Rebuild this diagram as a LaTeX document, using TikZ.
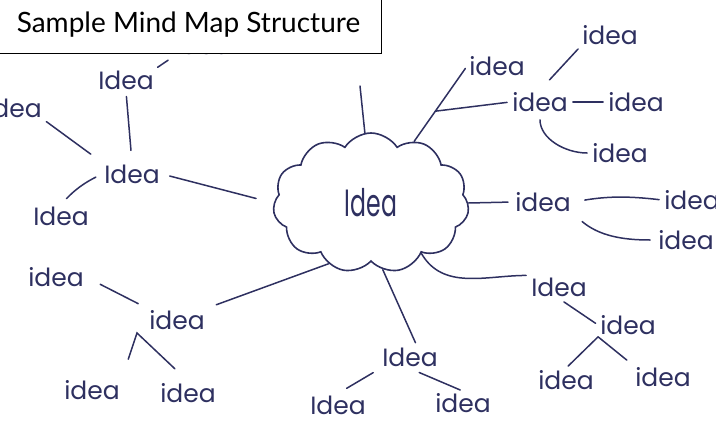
\documentclass[tikz,border=0pt]{standalone}
\usepackage{fontspec}
\setmainfont{Lato}
\newfontfamily\handfont{Poppins}
\usetikzlibrary{shapes.symbols}
\definecolor{ink}{RGB}{46,48,96}

\begin{document}
\begin{tikzpicture}
  [
    x=1pt, y=-1pt,
    main node/.style={cloud, cloud puffs=11, cloud puff arc=115, aspect=1.4,
      draw=ink, line width=1.6pt, minimum width=196pt, minimum height=140pt,
      inner sep=0pt, text=ink},
    idea node/.style={font=\handfont\fontsize{25}{25}\selectfont, text=ink, inner sep=2pt},
    title box/.style={draw=black, fill=white, line width=0.9pt,
      minimum width=386pt, minimum height=58pt, font=\fontsize{28}{28}\selectfont},
    link/.style={draw=ink, line width=1.5pt, line cap=round, shorten <=3pt, shorten >=3pt}
    ]
  \useasboundingbox (0,0) rectangle (716,424);

  % central idea
  \node[main node] (core) at (371,203)
    {\handfont\fontsize{38}{38}\selectfont\scalebox{0.62}[1]{Idea}};
  \coordinate (coretip) at (360,86);

  % left branch
  \node[idea node] (west) at (132,174) {Idea};
  \node[idea node] (westup) at (126,80) {Idea};
  \node[idea node] (westtop) at (203,45) {idea};
  \node[idea node] (westfar) at (14,108) {idea};
  \node[idea node] (westlow) at (61,216) {Idea};

  % lower left branch
  \node[idea node] (lowhub) at (177,320) {idea};
  \node[idea node] (lowfar) at (56,277) {idea};
  \node[idea node] (lowa) at (92,390) {idea};
  \node[idea node] (lowb) at (188,393) {idea};
  \coordinate (lowfork) at (137,333);

  % bottom branch
  \node[idea node] (south) at (410,357) {Idea};
  \node[idea node] (southa) at (338,405) {Idea};
  \node[idea node] (southb) at (463,403) {idea};

  % lower right branch
  \node[idea node] (sehub) at (559,287) {Idea};
  \node[idea node] (sefork) at (628,325) {idea};
  \node[idea node] (sea) at (566,380) {idea};
  \node[idea node] (seb) at (663,377) {idea};

  % upper right branch
  \node[idea node] (nelink) at (497,66) {idea};
  \node[idea node] (nehub) at (540,102) {idea};
  \node[idea node] (netop) at (610,35) {idea};
  \node[idea node] (neright) at (636,102) {idea};
  \node[idea node] (nelow) at (620,153) {idea};

  % right branch
  \node[idea node] (east) at (543,202) {idea};
  \node[idea node] (eastup) at (692,200) {idea};
  \node[idea node] (eastdown) at (686,240) {idea};

  \path (core.55) -- (nelink.west) coordinate[pos=0.4] (nebranch);

  \path[link]
    (core.95) edge[shorten >=0pt, shorten <=0pt] (coretip)
    (west.north) edge[shorten <=12pt, shorten >=5pt] (westup.south)
    (westup.north east) edge[shorten <=2pt, shorten >=6pt] (westtop.south west)
    (west.north west) edge[shorten <=14pt] (westfar.south east)
    (west.west) edge[bend right=10, shorten <=7pt, shorten >=8pt] (westlow.north)
    (west.east) edge[shorten <=8pt, shorten >=18pt] (core.west)
    (lowfar.east) edge[shorten <=16pt, shorten >=10pt] (lowhub.north west)
    (lowhub.north east) edge[shorten <=10pt, shorten >=0pt] (core.235)
    (core.280) edge[shorten <=0pt] (south.60)
    (south.south west) edge[shorten <=8pt, shorten >=10pt] (southa.north)
    (south.south) edge[shorten <=10pt] (southb.north)
    (core.-45) edge[out=-60, in=180, shorten <=0pt] (sehub.north west)
    (sehub.south) edge[shorten <=6pt] (sefork.west)
    (sefork.south west) edge[shorten <=0pt] (sea.north)
    (sefork.south west) edge[shorten <=0pt, shorten >=8pt] (seb.north west)
    (core.55) edge[shorten <=0pt] (nelink.west)
    (nebranch) edge[shorten <=0pt] (nehub.west)
    (nehub.north) edge[shorten <=14pt] (netop.south west)
    (nehub) edge (neright)
    (nehub.south) edge[out=-90, in=180, shorten <=6pt] (nelow.west)
    (core.east) edge[shorten <=0pt, shorten >=5pt] (east.west)
    (east.east) edge[bend left=8, shorten <=12pt] (eastup.west)
    (east.south east) edge[out=-40, in=180, shorten <=12pt, shorten >=6pt] (eastdown.west);
  \draw[link, shorten <=20pt, shorten >=18pt] (lowa.north east) -- (lowfork) -- (lowb.north);

  % heading
  \node[title box, anchor=north west] (title) at (-5,-5) {Sample Mind Map Structure};
\end{tikzpicture}
\end{document}
